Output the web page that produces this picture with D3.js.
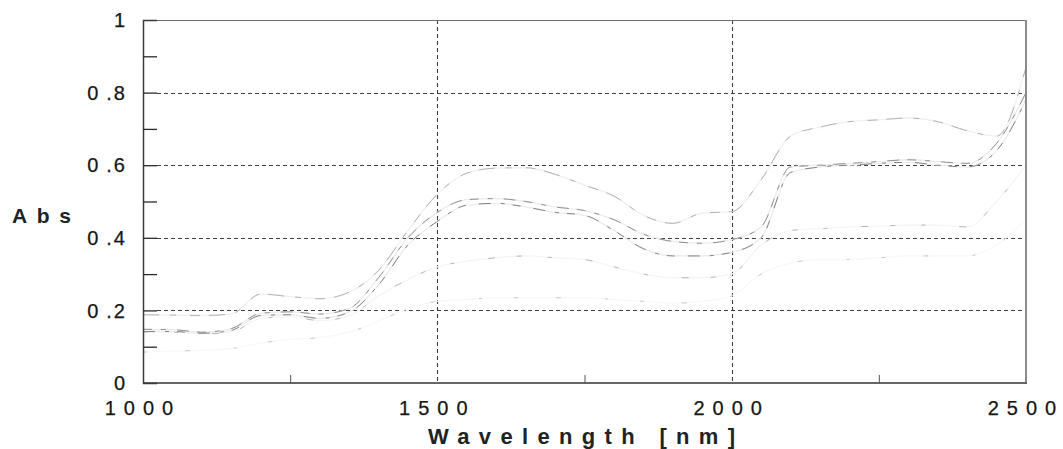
<!DOCTYPE html>
<html>
<head>
<meta charset="utf-8">
<script src="https://cdn.jsdelivr.net/npm/d3@7"></script>
<style>
  html, body { margin: 0; padding: 0; background: #fff; }
  svg { display: block; }
  .tick-label { font-family: "Liberation Sans", Arial, sans-serif; fill: #161616; stroke: #161616; stroke-width: 0.25; }
  .axis-title { font-family: "Liberation Sans", Arial, sans-serif; font-weight: bold; fill: #1e2424; }
</style>
</head>
<body>
<svg id="chart" width="1063" height="449"></svg>
<script>
// Wavelength grid (nm) shared by every spectrum
const wavelengths = [1000, 1050, 1100, 1150, 1200, 1250, 1300, 1350, 1400, 1450,
                     1500, 1550, 1600, 1650, 1700, 1750, 1800, 1850, 1900, 1950,
                     2000, 2050, 2100, 2150, 2200, 2250, 2300, 2350, 2400, 2450, 2500];

// Absorbance spectra
const spectrumA = [0.188, 0.187, 0.186, 0.190, 0.245, 0.238, 0.232, 0.250, 0.310, 0.420,
                   0.520, 0.578, 0.592, 0.593, 0.575, 0.545, 0.515, 0.462, 0.440, 0.468,
                   0.472, 0.560, 0.680, 0.705, 0.720, 0.725, 0.730, 0.720, 0.695, 0.680, 0.870];
const spectrumB = [0.148, 0.147, 0.140, 0.150, 0.192, 0.196, 0.190, 0.205, 0.290, 0.400,
                   0.470, 0.505, 0.508, 0.500, 0.485, 0.475, 0.450, 0.410, 0.390, 0.385,
                   0.395, 0.430, 0.595, 0.600, 0.605, 0.610, 0.615, 0.610, 0.605, 0.660, 0.800];
const spectrumC = [0.142, 0.142, 0.137, 0.145, 0.186, 0.188, 0.178, 0.195, 0.270, 0.380,
                   0.445, 0.490, 0.495, 0.485, 0.470, 0.462, 0.420, 0.370, 0.350, 0.350,
                   0.360, 0.400, 0.580, 0.595, 0.600, 0.605, 0.608, 0.600, 0.595, 0.640, 0.780];
const spectrumD = [0.140, 0.140, 0.135, 0.140, 0.178, 0.182, 0.172, 0.185, 0.240, 0.285,
                   0.320, 0.335, 0.345, 0.350, 0.345, 0.340, 0.320, 0.300, 0.290, 0.290,
                   0.300, 0.380, 0.420, 0.425, 0.430, 0.432, 0.435, 0.435, 0.430, 0.500, 0.600];
const spectrumE = [0.085, 0.088, 0.090, 0.095, 0.110, 0.120, 0.125, 0.140, 0.170, 0.205,
                   0.225, 0.230, 0.235, 0.235, 0.235, 0.235, 0.230, 0.225, 0.220, 0.225,
                   0.240, 0.300, 0.330, 0.340, 0.340, 0.345, 0.350, 0.350, 0.350, 0.380, 0.450];

// Axis ticks
const xLabelTicks = [1000, 1500, 2000, 2500];
const xMinorTicks = [1250, 1750, 2250];
const xGridTicks = [1500, 2000];
const yLabelTicks = [0, 0.2, 0.4, 0.6, 0.8, 1];
const yLabelText = ["0", "0.2", "0.4", "0.6", "0.8", "1"];
const yMinorTicks = [0.1, 0.3, 0.5, 0.7, 0.9];
const yGridTicks = [0.2, 0.4, 0.6, 0.8];

// Each trace: a pale underlying stroke plus darker broken fragments
const series = [
  { name: "A", values: spectrumA, base: "#f0f0f0", color: "#b2b2b2", dash: "16,11,6,14,10,9" },
  { name: "B", values: spectrumB, base: "#ececec", color: "#909090", dash: "9,9,5,11,12,8" },
  { name: "C", values: spectrumC, base: "#ececec", color: "#838383", dash: "12,10,4,8,8,13" },
  { name: "D", values: spectrumD, base: "#f5f5f5", color: "#b8b8b8", dash: "5,26,4,34,7,22" },
  { name: "E", values: spectrumE, base: "#f8f8f8", color: "#cacaca", dash: "4,38,5,44,3,32" }
];

const svg = d3.select("#chart");
const plotLeft = 143, plotRight = 1026, plotTop = 20, plotBottom = 383;

const x = d3.scaleLinear().domain([1000, 2500]).range([plotLeft, plotRight]);
const y = d3.scaleLinear().domain([0, 1]).range([plotBottom, plotTop]);

// Dashed grid
const grid = svg.append("g").attr("stroke", "#3e3e3e").attr("stroke-width", 1.1)
  .attr("stroke-dasharray", "4,3");
grid.selectAll(".hgrid").data(yGridTicks).join("line")
  .attr("x1", plotLeft + 14).attr("x2", plotRight)
  .attr("y1", d => Math.round(y(d)) + 0.5).attr("y2", d => Math.round(y(d)) + 0.5);
grid.selectAll(".vgrid").data(xGridTicks).join("line")
  .attr("x1", d => Math.round(x(d)) + 0.5).attr("x2", d => Math.round(x(d)) + 0.5)
  .attr("y1", plotTop).attr("y2", plotBottom);

// Spectra
const line = d3.line()
  .x((d, i) => x(wavelengths[i]))
  .y(d => y(d))
  .curve(d3.curveMonotoneX);

const traces = svg.append("g").attr("fill", "none");
traces.selectAll("path.base").data(series).join("path")
  .attr("class", "base")
  .attr("d", s => line(s.values))
  .attr("stroke", s => s.base)
  .attr("stroke-width", 1.3);
traces.selectAll("path.frag").data(series).join("path")
  .attr("class", "frag")
  .attr("d", s => line(s.values))
  .attr("stroke", s => s.color)
  .attr("stroke-width", 1)
  .attr("stroke-dasharray", s => s.dash);

// Frame
svg.append("line").attr("x1", plotLeft).attr("x2", plotRight).attr("y1", plotTop + 0.5).attr("y2", plotTop + 0.5)
  .attr("stroke", "#6e6e6e").attr("stroke-width", 1);
svg.append("line").attr("x1", plotRight).attr("x2", plotRight).attr("y1", plotTop).attr("y2", plotBottom)
  .attr("stroke", "#8c8c8c").attr("stroke-width", 2);
svg.append("line").attr("x1", plotLeft).attr("x2", plotRight + 1).attr("y1", plotBottom).attr("y2", plotBottom)
  .attr("stroke", "#666").attr("stroke-width", 2);

// Y axis: inward ticks at every 0.1
const yAxis = d3.axisLeft(y)
  .tickValues(yMinorTicks.concat(yGridTicks))
  .tickSize(-14)
  .tickFormat("");
const yAxisG = svg.append("g").attr("transform", `translate(${plotLeft},0)`).call(yAxis);
yAxisG.select(".domain").attr("stroke", "#3a3a3a").attr("stroke-width", 1.5);
yAxisG.selectAll(".tick line").attr("stroke", "#2a2a2a").attr("stroke-width", 1.3);

// X axis: short inward ticks at the quarter marks
const xAxis = d3.axisBottom(x)
  .tickValues(xMinorTicks)
  .tickSize(-8)
  .tickFormat("");
const xAxisG = svg.append("g").attr("transform", `translate(0,${plotBottom})`).call(xAxis);
xAxisG.select(".domain").remove();
xAxisG.selectAll(".tick line").attr("stroke", "#555").attr("stroke-width", 1);

// Tick labels: integer part and decimal part set apart, as printed by the instrument
const yLabels = svg.append("g").selectAll("text").data(yLabelTicks).join("text")
  .attr("class", "tick-label")
  .attr("x", 127)
  .attr("y", d => y(d))
  .attr("dy", "0.36em")
  .attr("text-anchor", "end")
  .attr("font-size", 20)
  .attr("letter-spacing", 2);
yLabels.each(function(d, i) {
  const label = yLabelText[i];
  const dot = label.indexOf(".");
  const t = d3.select(this);
  if (dot < 0) {
    t.text(label);
  } else {
    t.append("tspan").text(label.slice(0, dot));
    t.append("tspan").attr("dx", 6).text(label.slice(dot));
  }
});

svg.append("g").selectAll("text").data(xLabelTicks).join("text")
  .attr("class", "tick-label")
  .attr("x", d => x(d))
  .attr("y", 415)
  .attr("text-anchor", "middle")
  .attr("font-size", 20)
  .attr("letter-spacing", 8)
  .text(d => d);

// Axis titles
svg.append("text").attr("class", "axis-title")
  .attr("x", 12).attr("y", 223)
  .attr("font-size", 21)
  .attr("textLength", 59).attr("lengthAdjust", "spacing")
  .text("Abs");

svg.append("text").attr("class", "axis-title")
  .attr("x", 428).attr("y", 444)
  .attr("font-size", 22)
  .attr("textLength", 307).attr("lengthAdjust", "spacing")
  .text("Wavelength [nm]");
</script>
</body>
</html>
